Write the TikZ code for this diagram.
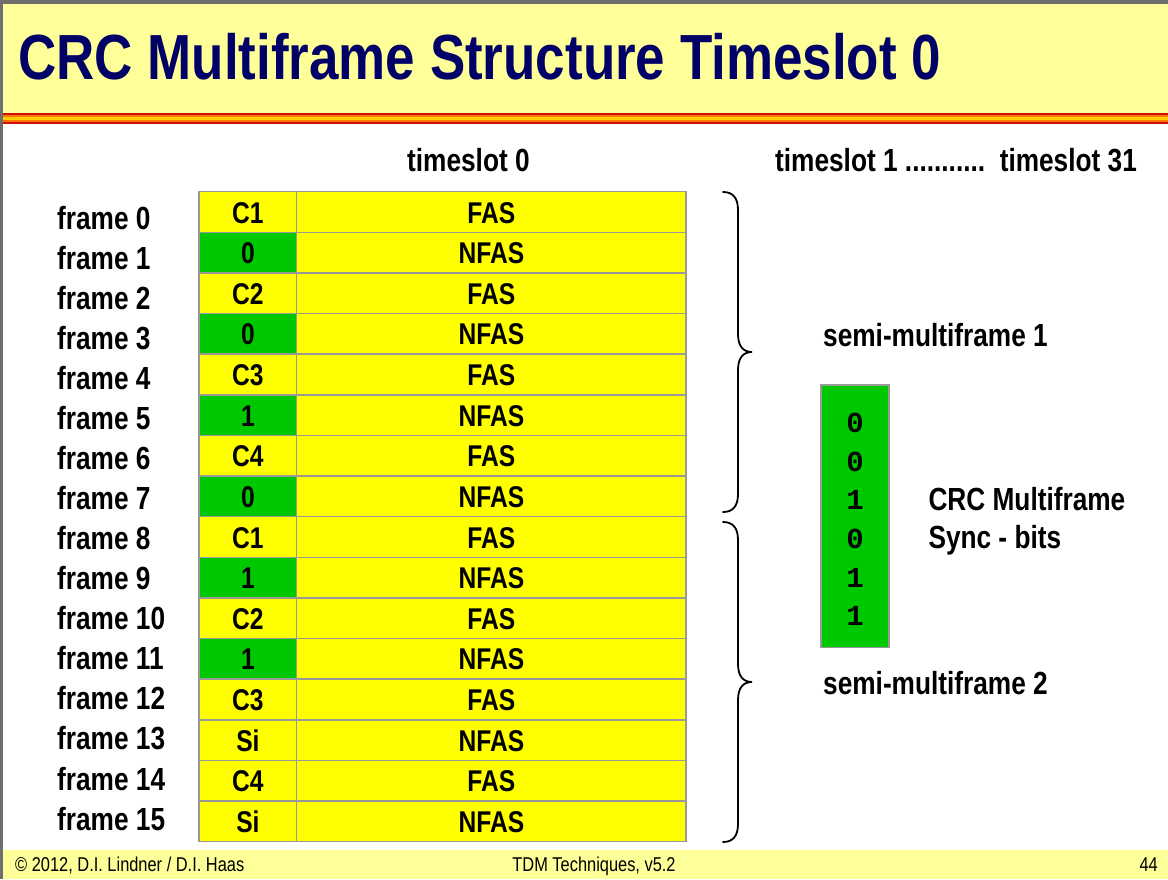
\documentclass[tikz,border=0pt]{standalone}
\usepackage{fontspec}
\setmainfont{Liberation Sans}
\newfontfamily\nbf{Liberation Sans Bold}[FakeStretch=0.82]
\newfontfamily\tbf{Liberation Sans Bold}[FakeStretch=0.83]
\newfontfamily\nrm{Liberation Sans}[FakeStretch=0.82]
\newfontfamily\mbf{Liberation Mono Bold}
\definecolor{hdr}{HTML}{FFFF99}
\definecolor{navy}{HTML}{000066}
\definecolor{cellY}{HTML}{FFFF00}
\definecolor{cellG}{HTML}{00C800}
\definecolor{gridc}{HTML}{999999}
\definecolor{frameg}{HTML}{6E6E6E}
\definecolor{strR}{HTML}{CC1100}
\definecolor{strO}{HTML}{FF7700}
\definecolor{strY}{HTML}{FFCC00}
\tikzset{
  cellbox/.style={draw=gridc, line width=1.5pt, inner sep=0pt, outer sep=0pt,
    text height=22pt, text depth=0pt, minimum height=40.625pt,
    font=\nbf\fontsize{30}{32}\selectfont},
  lbl/.style={inner sep=0pt, anchor=base west, font=\nbf\fontsize{32}{36}\selectfont},
  foot/.style={inner sep=0pt, font=\nrm\fontsize{20}{22}\selectfont},
  bitstyle/.style={inner sep=0pt, anchor=base, font=\mbf\fontsize{29}{29}\selectfont},
  bracestyle/.style={line width=1.8pt, line cap=round}
}
\begin{document}
\begin{tikzpicture}[x=1pt,y=-1pt]
\useasboundingbox (0,0) rectangle (1168,879);
\fill[white] (0,0) rectangle (1168,879);
% header
\fill[hdr] (0,0) rectangle (1168,113);
\fill[strR] (0,112.5) rectangle (1168,114.5);
\fill[strO] (0,114.5) rectangle (1168,117);
\fill[strY] (0,117) rectangle (1168,119.5);
\fill[strO] (0,119.5) rectangle (1168,121.5);
\fill[strR] (0,121.5) rectangle (1168,123.5);
% footer
\fill[hdr] (0,850) rectangle (1168,879);
% frame border
\fill[frameg] (0,0) rectangle (1168,4);
\fill[frameg] (0,0) rectangle (2.5,879);
% title
\node[anchor=base west, inner sep=0pt, text=navy, font=\tbf\fontsize{63.8}{70}\selectfont] (title) at (18,79) {CRC Multiframe Structure Timeslot 0};
% column headings
\node[lbl] (ts0) at (407,171) {timeslot 0};
\node[lbl] (ts131) at (775,171) {timeslot 1 ...........\ \ timeslot 31};
% table
\foreach \i/\a/\b/\c in {0/C1/FAS/cellY, 1/0/NFAS/cellG, 2/C2/FAS/cellY, 3/0/NFAS/cellG,
  4/C3/FAS/cellY, 5/1/NFAS/cellG, 6/C4/FAS/cellY, 7/0/NFAS/cellG,
  8/C1/FAS/cellY, 9/1/NFAS/cellG, 10/C2/FAS/cellY, 11/1/NFAS/cellG,
  12/C3/FAS/cellY, 13/Si/NFAS/cellY, 14/C4/FAS/cellY, 15/Si/NFAS/cellY}{
  \pgfmathsetmacro\yc{191.7+40.625*(\i+0.5)}
  \pgfmathsetmacro\yl{229.3+40.05*\i}
  \node[cellbox, fill=\c, minimum width=97.5pt] (a\i) at (247.9,\yc) {\a};
  \node[cellbox, fill=cellY, minimum width=389.4pt] (b\i) at (491.4,\yc) {\b};
  \node[lbl] (f\i) at (57,\yl) {frame \i};
}
% braces
\draw[bracestyle] (723,192) .. controls (733,192) and (738,198) .. (738,210) -- (738,334)
  .. controls (738,346) and (743,352) .. (752,352)
  .. controls (743,352) and (738,358) .. (738,370) -- (738,494)
  .. controls (738,506) and (733,512) .. (723,512);
\draw[bracestyle] (723,522) .. controls (733,522) and (738,528) .. (738,540) -- (738,664)
  .. controls (738,676) and (743,682) .. (752,682)
  .. controls (743,682) and (738,688) .. (738,700) -- (738,824)
  .. controls (738,836) and (733,842) .. (723,842);
\node[lbl] (smf1) at (823,346) {semi-multiframe 1};
\node[lbl] (smf2) at (823,694.3) {semi-multiframe 2};
% sync bits
\node[draw=gridc, fill=cellG, line width=1.2pt, minimum width=68pt, minimum height=262.7pt, inner sep=0pt] (bits) at (855,516.3) {};
\foreach \j/\v in {0/0,1/0,2/1,3/0,4/1,5/1}{
  \pgfmathsetmacro\yb{432.3+38.7*\j}
  \node[bitstyle] (bit\j) at (855,\yb) {\v};
}
\node[lbl] (crc1) at (928.3,510) {CRC Multiframe};
\node[lbl] (crc2) at (928.3,548.3) {Sync - bits};
% footer texts
\node[foot, anchor=base west] (copy) at (15,871) {© 2012, D.I. Lindner / D.I. Haas};
\node[foot, anchor=base] (tdm) at (594,871) {TDM Techniques, v5.2};
\node[foot, anchor=base east] (pg) at (1158,871) {44};
\end{tikzpicture}
\end{document}
